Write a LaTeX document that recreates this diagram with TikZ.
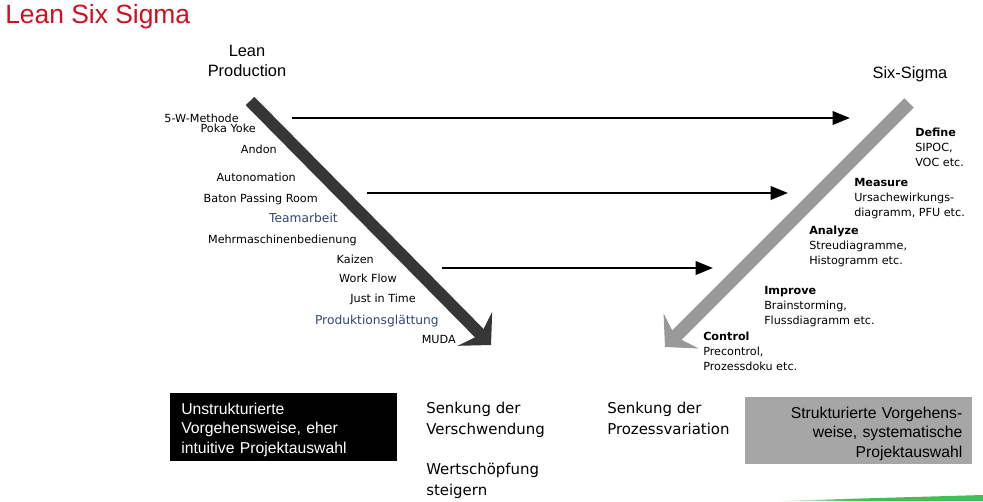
\documentclass[tikz,border=0pt]{standalone}
\usepackage{fontspec}
\setmainfont{DejaVu Sans}
\newfontfamily\arialfont{Liberation Sans}
\usetikzlibrary{arrows.meta}
\definecolor{titlered}{RGB}{204,16,32}
\definecolor{leangray}{RGB}{54,54,54}
\definecolor{sigmagray}{RGB}{153,153,153}
\definecolor{boxgray}{RGB}{166,166,166}
\definecolor{toolblue}{RGB}{52,70,110}
\definecolor{bargreen}{RGB}{66,190,84}

\begin{document}
\begin{tikzpicture}[x=0.75pt, y=-0.75pt,
  tool/.style={anchor=east, inner sep=0pt, text height=6.3pt, text depth=1.7pt,
               font=\fontsize{8.4}{10}\selectfont},
  bluetool/.style={tool, text=toolblue, text height=7pt, text depth=1.9pt,
                   font=\fontsize{9.2}{11}\selectfont},
  phase/.style={anchor=north west, inner sep=0pt, align=left,
                font=\fontsize{8.4}{11.25}\selectfont},
  head/.style={inner sep=0pt, align=center, font=\arialfont\fontsize{12.3}{15}\selectfont},
  goal/.style={anchor=north west, inner sep=0pt, align=left,
               font=\fontsize{11.2}{15.75}\selectfont},
  infobox/.style={anchor=north west, minimum width=170.25pt, inner ysep=0pt,
                  font=\arialfont\fontsize{11.8}{14.8}\selectfont},
  link/.style={-{Triangle[length=13pt, width=10pt]}, line width=1.9pt},
  leanarr/.style={-{Stealth[length=17pt 0, width=36pt 0, inset=6pt 0]}, line width=9pt, leangray},
  sigmaarr/.style={-{Stealth[length=17pt 0, width=37pt 0, inset=6pt 0]}, line width=10pt, sigmagray}]
  \useasboundingbox (0,0) rectangle (983,501);

  \node[anchor=base west, inner sep=0pt, text=titlered,
        font=\arialfont\fontsize{19.8}{22}\selectfont] (title) at (5,23) {Lean Six Sigma};

  \node[head] (leanhead) at (247,61) {Lean\\Production};
  \node[head, anchor=base] (sigmahead) at (910,78) {Six-Sigma};

  \coordinate (leanstart) at (250,101);
  \coordinate (leanend) at (491,345);
  \coordinate (sigmastart) at (909,103);
  \coordinate (sigmaend) at (665,347);
  \draw[leanarr] (leanstart) -- (leanend);
  \draw[sigmaarr] (sigmastart) -- (sigmaend);

  \node[tool] (fuenfw) at (239,119) {5-W-Methode};
  \node[tool] (poka) at (256,129) {Poka Yoke};
  \node[tool] (andon) at (277,150) {Andon};
  \node[tool] (autonom) at (296,178) {Autonomation};
  \node[tool] (baton) at (318,199) {Baton Passing Room};
  \node[bluetool] (team) at (338,219) {Teamarbeit};
  \node[tool] (mehr) at (357,240) {Mehrmaschinenbedienung};
  \node[tool] (kaizen) at (374,260) {Kaizen};
  \node[tool] (workflow) at (397,279) {Work Flow};
  \node[tool] (jit) at (416,299) {Just in Time};
  \node[bluetool] (glaett) at (439,321) {Produktionsglättung};
  \node[tool] (muda) at (456,340) {MUDA};

  \node[phase] (define) at (915,127.6) {\textbf{Define}\\SIPOC,\\VOC etc.};
  \node[phase] (measure) at (854,177.6) {\textbf{Measure}\\Ursachewirkungs-\\diagramm, PFU etc.};
  \node[phase] (analyze) at (809,225.6) {\textbf{Analyze}\\Streudiagramme,\\Histogramm etc.};
  \node[phase] (improve) at (764,285.6) {\textbf{Improve}\\Brainstorming,\\Flussdiagramm etc.};
  \node[phase] (control) at (703,331.6) {\textbf{Control}\\Precontrol,\\Prozessdoku etc.};

  \coordinate (linkAa) at (292,118);
  \coordinate (linkAb) at (850,118);
  \coordinate (linkBa) at (367,193);
  \coordinate (linkBb) at (788,193);
  \coordinate (linkCa) at (442,268);
  \coordinate (linkCb) at (713,268);
  \draw[link] (linkAa) -- (linkAb);
  \draw[link] (linkBa) -- (linkBb);
  \draw[link] (linkCa) -- (linkCb);

  \node[infobox, fill=black, text=white, minimum height=51pt, inner xsep=8.25pt,
        text width=153.75pt, align=left] (leanbox) at (170,393)
        {\rule{0pt}{12.4pt}Unstrukturierte\\Vorgehensweise, eher\\intuitive Projektauswahl};
  \node[goal] (verschw) at (426,401.5) {Senkung der\\Verschwendung};
  \node[goal] (wertsch) at (426,462.5) {Wertschöpfung\\steigern};
  \node[goal] (prozvar) at (607,401.5) {Senkung der\\Prozessvariation};
  \node[infobox, fill=boxgray, minimum height=50.25pt, inner xsep=7.5pt,
        text width=155.25pt, align=right] (sigmabox) at (745,397)
        {\rule{0pt}{13.1pt}Strukturierte Vorgehens-\\weise, systematische\\Projektauswahl};

  \shade[left color=white, right color=bargreen] (773,501) -- (850,498.8) -- (850,501) -- cycle;
  \fill[bargreen] (850,498.8) -- (983,495) -- (983,501) -- (850,501) -- cycle;
\end{tikzpicture}
\end{document}
